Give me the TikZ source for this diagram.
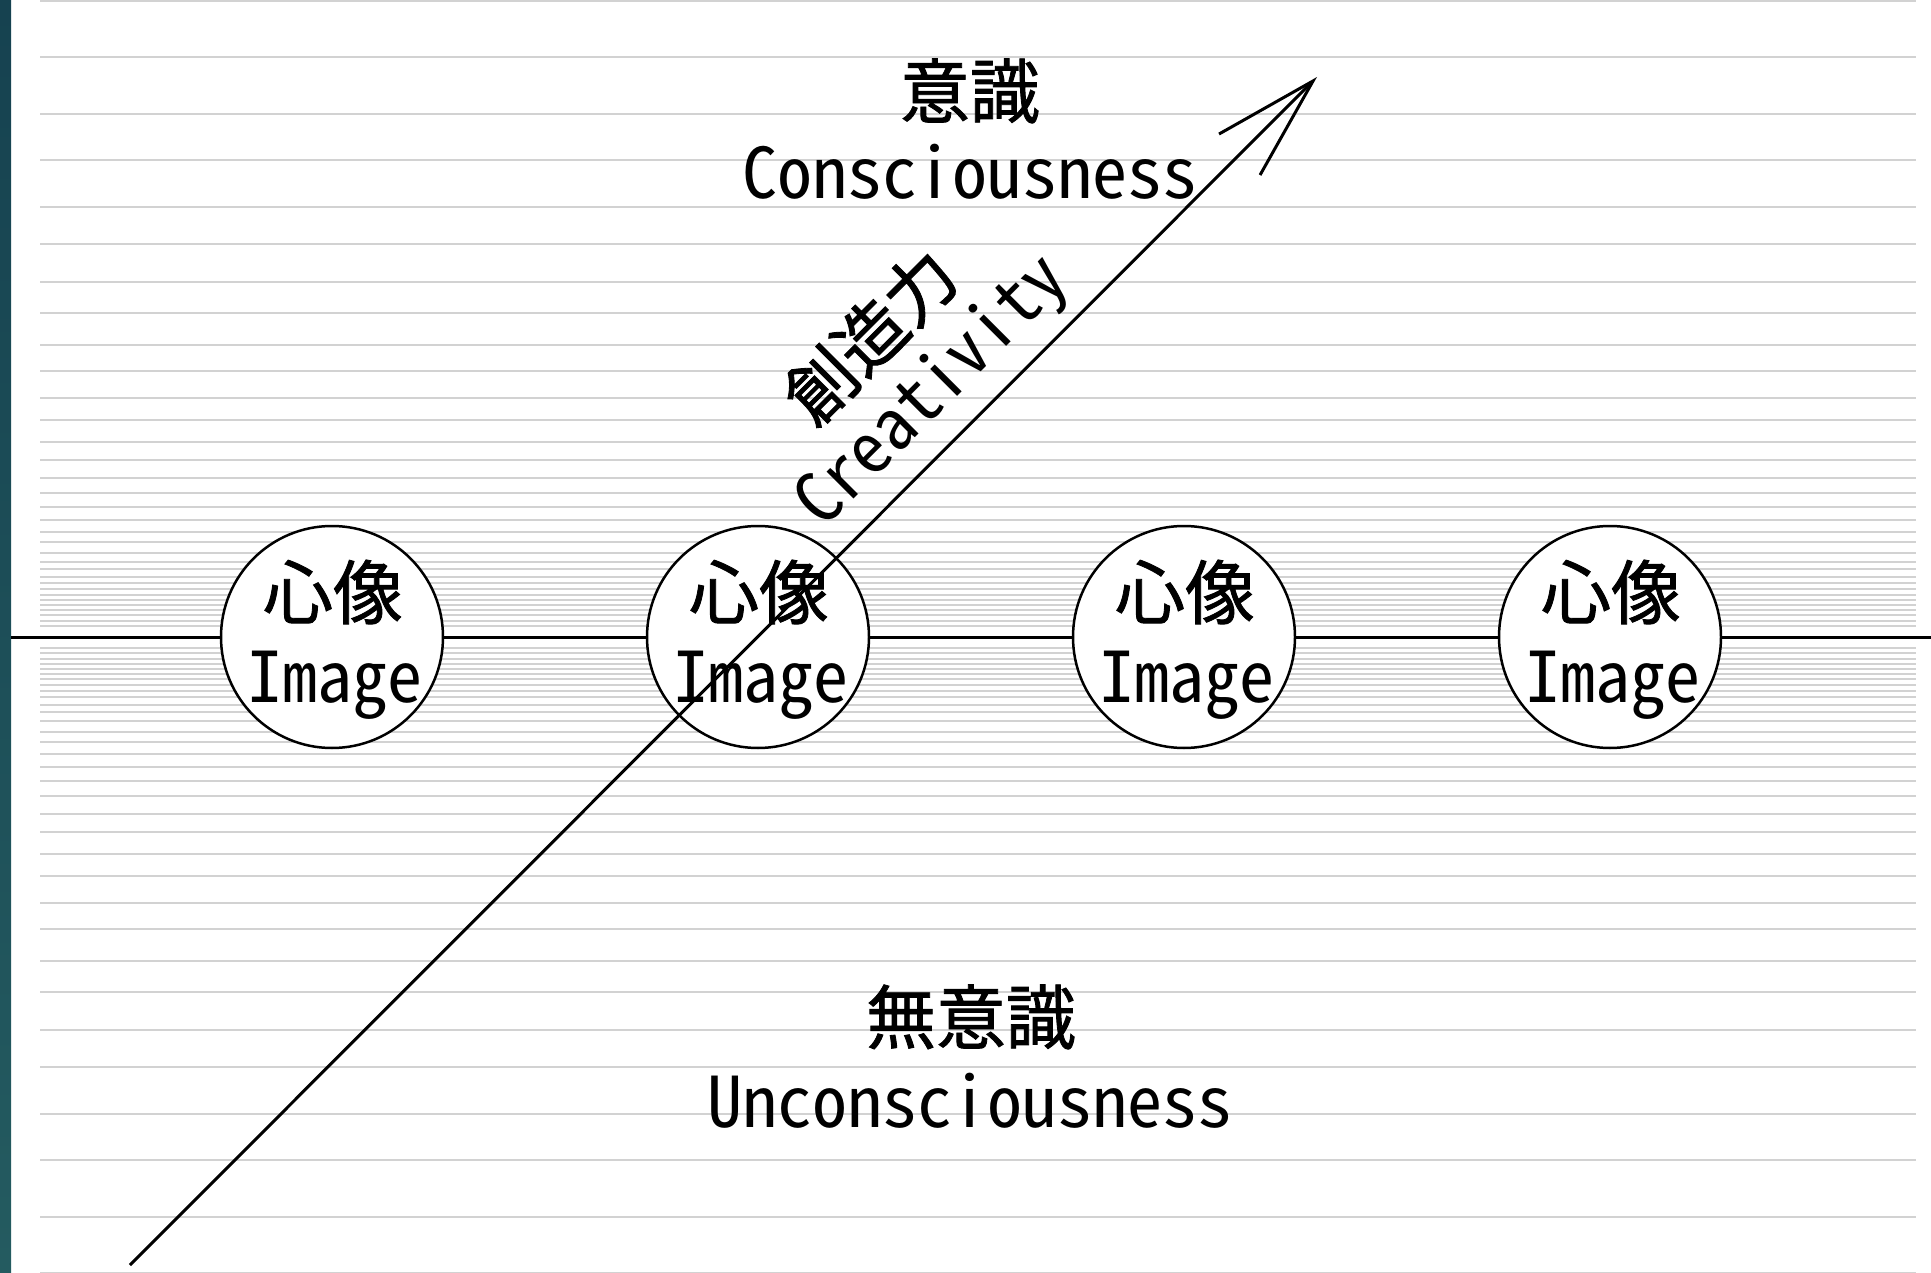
\documentclass[tikz,border=0pt]{standalone}
\usepackage{fontspec}
\usetikzlibrary{arrows.meta}
\newfontfamily\jpfont[FakeBold=1.2]{Noto Sans CJK JP}
\newfontfamily\monofont[CharacterWidth=Half]{Noto Sans CJK JP}
\definecolor{rulegray}{RGB}{210,210,210}
\definecolor{tealtop}{RGB}{22,66,80}
\definecolor{tealbot}{RGB}{36,91,96}
\begin{document}
\begin{tikzpicture}[x=1pt,y=-1pt,
  rule/.style={draw=rulegray,line width=1.8pt},
  axisline/.style={draw=black,line width=3pt},
  imgcircle/.style={circle,draw=black,line width=2.5pt,fill=white,minimum size=222pt,inner sep=0pt},
  kanji/.style={font=\jpfont\fontsize{70}{84}\selectfont,inner sep=0pt},
  latin/.style={font=\monofont\fontsize{70}{84}\selectfont,inner sep=0pt,anchor=base},
  arrowline/.style={line width=3pt,-{Straight Barb[length=104pt,width=58pt]}}]
\useasboundingbox (0,0) rectangle (1931,1273);
\fill[white] (0,0) rectangle (1931,1273);
\shade[top color=tealtop,bottom color=tealbot] (0,0) rectangle (11,1273);
\foreach \d in {636,580,523,477,430,393,355,324,292,266,239,217,195,177,159,144,130,117,105,95,84,75,68,60,54,48,42,37,32,27,22,16,11}{
  \draw[rule] (40,637-\d) -- (1916,637-\d);
  \draw[rule] (40,637+\d) -- (1916,637+\d);
}
\coordinate (axisL) at (11,637);
\coordinate (axisR) at (1931,637);
\draw[axisline] (axisL) -- (axisR);
\foreach \i/\x in {1/332,2/758,3/1184,4/1610}{
  \node[imgcircle] (c\i) at (\x,637) {};
  \node[kanji] (k\i) at (\x+1,592) {心像};
  \node[latin] (i\i) at (\x+3,702) {Image};
}
\coordinate (arrowstart) at (130,1265);
\coordinate (arrowtip) at (1317,77);
\draw[arrowline] (arrowstart) -- (arrowtip);
\node[kanji] (conscj) at (970,91) {意識};
\node[latin] (consce) at (970,199) {Consciousness};
\node[kanji] (unconscj) at (971,1017) {無意識};
\node[latin] (unconsce) at (970,1127) {Unconsciousness};
\node[kanji,rotate=45] (creatj) at (870,336) {創造力};
\node[latin,rotate=45] (create) at (947,406) {Creativity};
\end{tikzpicture}
\end{document}
